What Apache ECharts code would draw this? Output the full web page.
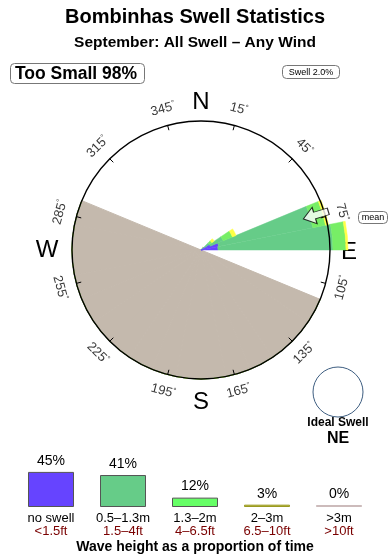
<!DOCTYPE html>
<html><head><meta charset="utf-8">
<script src="https://cdn.jsdelivr.net/npm/echarts@6/dist/echarts.min.js"></script>
<style>html,body{margin:0;padding:0;background:#fff}#c{width:390px;height:560px}</style>
</head><body><div id="c"></div>
<script>
// direction bins (start bearing of each 11.25° bin)
const binLabels = ['0','11.25','22.5','33.75','45','56.25','67.5','78.75','90','101.25','112.5','123.75','135','146.25','157.5','168.75','180','191.25','202.5','213.75','225','236.25','247.5','258.75','270','281.25','292.5','303.75','315','326.25','337.5','348.75'];
// stacked rose segment lengths per bin (radius units)
const noSwell  = [0,0,0,1,4,10,18,17,0,0,0,0,0,0,0,0,0,0,0,0,0,0,0,0,0,0,0,0,0,0,0,0];
const swellA   = [0,0,0,2,6,14,96,115,0,0,0,0,0,0,0,0,0,0,0,0,0,0,0,0,0,0,0,0,0,0,0,0];
const swellB   = [0,0,0,0,3,10,13,13,0,0,0,0,0,0,0,0,0,0,0,0,0,0,0,0,0,0,0,0,0,0,0,0];
const swellC   = [0,0,0,0,3,4,3,2,0,0,0,0,0,0,0,0,0,0,0,0,0,0,0,0,0,0,0,0,0,0,0,0];
// land sector (bins fully covered by land, to circle edge)
const land     = [0,0,0,0,0,0,0,0,0,0,129,129,129,129,129,129,129,129,129,129,129,129,129,129,129,129,0,0,0,0,0,0];
// compass tick labels
const tickLabels = ['15','45','75','105','135','165','195','225','255','285','315','345'];
const tickDeg    = [15,45,75,105,135,165,195,225,255,285,315,345];
// mean direction
const meanBin = '67.5';
const meanRadius = 120;
// legend
const legendCats = ['no swell','0.5–1.3m','1.3–2m','2–3m','>3m'];
const legendFt   = ['<1.5ft','1.5–4ft','4–6.5ft','6.5–10ft','>10ft'];
const legendPct  = [45,41,12,3,0];
const legendColors = ['#6644ff','#66cc88','#66ff66','#bbbb33','#ccbbbb'];
const legendBorders = ['#555555','#555555','#555555','#999922','#ccbbbb'];
const roseColors = ['#6644ff','#66cc88','#77ee66','#ffff44'];

const FF = '"Liberation Sans", Arial, Helvetica, sans-serif';
const chart = echarts.init(document.getElementById('c'), null, {renderer:'canvas'});
const C = [201,250];

function rot(b){ let r = b<=90 ? b : (b<270 ? b-180 : b-360); return -r; }

const roseSeries = [noSwell, swellA, swellB, swellC].map((d,i)=>({
  type:'bar', coordinateSystem:'polar', polarIndex:1, stack:'r', data:d,
  barCategoryGap:'0%', itemStyle:{color:roseColors[i], borderColor:roseColors[i], borderWidth:0.5}, z:3, silent:true
}));

const option = {
  animation:false,
  textStyle:{fontFamily:FF},
  polar:[
    {center:C, radius:129},
    {center:C, radius:150},
    {center:C, radius:146}
  ],
  angleAxis:[
    // ring: value axis rotated so ticks fall on 15°, 45°, ... bearings
    {polarIndex:0, type:'value', min:0, max:360, interval:30, startAngle:75, clockwise:true, z:10,
     axisLine:{show:true, lineStyle:{color:'#000', width:1.4}},
     axisTick:{show:true, inside:true, length:5, lineStyle:{color:'#000', width:1}},
     axisLabel:{show:false}, splitLine:{show:false}},
    {polarIndex:1, type:'category', data:binLabels, startAngle:90, clockwise:true, show:false},
    {polarIndex:2, type:'category', data:tickLabels, boundaryGap:false, startAngle:75, clockwise:true, show:false}
  ],
  radiusAxis:[
    {polarIndex:0, type:'value', min:0, max:129, show:false},
    {polarIndex:1, type:'value', min:0, max:150, show:false},
    {polarIndex:2, type:'value', min:0, max:146, show:false}
  ],
  grid:{left:15, right:15, top:468, bottom:53},
  xAxis:{type:'category', data:legendCats, axisLine:{show:false}, axisTick:{show:false},
    axisLabel:{margin:5, interval:0, formatter:(v,i)=>'{a|'+v+'}\n{b|'+legendFt[i]+'}',
      rich:{a:{fontSize:13, color:'#000', fontFamily:FF, lineHeight:13}, b:{fontSize:13, color:'#7a0000', fontFamily:FF, lineHeight:13}}}},
  yAxis:{type:'value', min:0, max:50, show:false},
  series:[
    {type:'bar', coordinateSystem:'polar', polarIndex:1, stack:'r', data:land, barCategoryGap:'0%',
     itemStyle:{color:'#c4b9ad', borderColor:'#c4b9ad', borderWidth:1}, z:2, silent:true},
    ...roseSeries,
    {type:'scatter', coordinateSystem:'polar', polarIndex:1, data:[[meanRadius, meanBin]],
     symbol:'path://M0,0 L10,9 L4,9 L4,20 L-4,20 L-4,9 L-10,9 Z', symbolSize:[17,26], symbolRotate:107,
     itemStyle:{color:'#fff', borderColor:'#000', borderWidth:1}, z:12, silent:true},
    {type:'scatter', coordinateSystem:'polar', polarIndex:2, symbolSize:0, silent:true, z:12,
     data:tickLabels.map((t,i)=>({value:[146, t], label:{rotate:rot(tickDeg[i])}})),
     label:{show:true, position:'inside', formatter:(p)=>'{n|'+p.value[1]+'}{d|°}', color:'#000',
       rich:{n:{fontSize:13, fontFamily:FF, color:'#000'}, d:{fontSize:8, fontFamily:FF, color:'#000', verticalAlign:'top', padding:[0,0,6,0]}}}},
    {type:'bar', data:legendPct.map((v,i)=>({value:v, itemStyle:{color:legendColors[i], borderColor:legendBorders[i], borderWidth:1}})),
     barWidth:46, barMinHeight:2, silent:true,
     label:{show:true, position:'top', distance:4, formatter:'{c}%', fontSize:14, color:'#000', fontFamily:FF}}
  ],
  graphic:[
    {type:'text', x:195, y:17, style:{text:'Bombinhas Swell Statistics', font:'bold 20px '+FF, fill:'#000', align:'center', verticalAlign:'middle'}},
    {type:'text', x:195, y:43, style:{text:'September: All Swell – Any Wind', font:'bold 15.5px '+FF, fill:'#000', align:'center', verticalAlign:'middle'}},
    {type:'rect', shape:{x:10.5, y:63.5, width:134, height:20, r:4}, style:{fill:'#fff', stroke:'#777', lineWidth:1}},
    {type:'text', x:76, y:74, style:{text:'Too Small 98%', font:'bold 17.5px '+FF, fill:'#000', align:'center', verticalAlign:'middle'}},
    {type:'rect', shape:{x:282.5, y:65.5, width:57, height:13, r:4}, style:{fill:'#fff', stroke:'#777', lineWidth:1}},
    {type:'text', x:311, y:72.5, style:{text:'Swell 2.0%', font:'9px '+FF, fill:'#000', align:'center', verticalAlign:'middle'}},
    {type:'text', x:201, y:102, style:{text:'N', font:'24px '+FF, fill:'#000', align:'center', verticalAlign:'middle'}},
    {type:'text', x:349, y:252, style:{text:'E', font:'24px '+FF, fill:'#000', align:'center', verticalAlign:'middle'}},
    {type:'text', x:201, y:402, style:{text:'S', font:'24px '+FF, fill:'#000', align:'center', verticalAlign:'middle'}},
    {type:'text', x:47, y:250, style:{text:'W', font:'24px '+FF, fill:'#000', align:'center', verticalAlign:'middle'}},
    {type:'rect', shape:{x:358.5, y:211.5, width:29, height:12, r:4}, style:{fill:'#fff', stroke:'#777', lineWidth:1}},
    {type:'text', x:373, y:218, style:{text:'mean', font:'9px '+FF, fill:'#000', align:'center', verticalAlign:'middle'}},
    {type:'circle', shape:{cx:338, cy:392, r:25}, style:{fill:'#fff', stroke:'#3d5d80', lineWidth:1}},
    {type:'text', x:338, y:423, style:{text:'Ideal Swell', font:'bold 12px '+FF, fill:'#000', align:'center', verticalAlign:'middle'}},
    {type:'text', x:338, y:439, style:{text:'NE', font:'bold 16px '+FF, fill:'#000', align:'center', verticalAlign:'middle'}},
    {type:'text', x:195, y:547, style:{text:'Wave height as a proportion of time', font:'bold 14px '+FF, fill:'#000', align:'center', verticalAlign:'middle'}}
  ]
};
chart.setOption(option);
</script></body></html>
